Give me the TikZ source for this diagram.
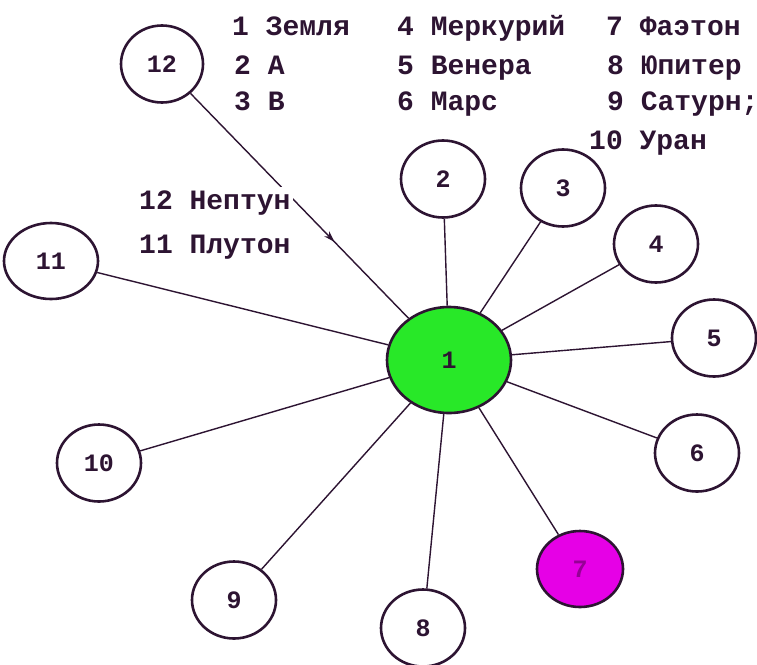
\documentclass[tikz,border=0pt]{standalone}
\usepackage{fontspec}
\setmonofont{Liberation Mono}
\usetikzlibrary{shapes.geometric,decorations.markings,arrows.meta}
\definecolor{ink}{RGB}{45,20,50}
\definecolor{sungreen}{RGB}{40,232,40}
\definecolor{mag}{RGB}{230,0,230}
\definecolor{magtext}{RGB}{150,0,150}
\begin{document}
\begin{tikzpicture}[x=1pt,y=-1pt,
 planet/.style={ellipse,draw=ink,fill=white,line width=2.6pt,minimum width=84pt,minimum height=77pt,inner sep=0pt,font=\ttfamily\bfseries\fontsize{25}{25}\selectfont,text=ink},
 legend/.style={anchor=base west,inner sep=1pt,font=\ttfamily\bfseries\fontsize{28}{28}\selectfont,text=ink},
 link/.style={draw=ink,line width=1.4pt}]
\useasboundingbox[fill=white] (0,0) rectangle (757,664);

% nodes
\node[planet,fill=sungreen,minimum width=124pt,minimum height=106pt] (n1) at (449,360) {1};
\node[planet] (n2) at (443,179) {2};
\node[planet] (n3) at (563,188) {3};
\node[planet] (n4) at (656,244) {4};
\node[planet] (n5) at (714,338) {5};
\node[planet] (n6) at (697,453) {6};
\node[planet,fill=mag,text=magtext,minimum width=86pt,minimum height=76pt] (n7) at (580,569) {7};
\node[planet] (n8) at (423,628) {8};
\node[planet] (n9) at (234,600) {9};
\node[planet] (n10) at (99,463) {10};
\node[planet,minimum width=94pt,minimum height=76pt] (n11) at (51,261) {11};
\node[planet,minimum width=82pt] (n12) at (162,64) {12};

% links
\foreach \t in {n2,n3,n4,n5,n6,n7,n8,n9,n10,n11}
  \draw[link] (n1) -- (\t);
\draw[link,postaction={decorate},decoration={markings,mark=at position 0.66 with {\arrow{Stealth[length=11pt,width=7pt]}}}] (n12) -- (n1);

% legend
\node[legend] (l1) at (231,35) {1 Земля};
\node[legend] (l2) at (233,74) {2 А};
\node[legend] (l3) at (233,110) {3 В};
\node[legend] (l4) at (396,35) {4 Меркурий};
\node[legend] (l5) at (396,74) {5 Венера};
\node[legend] (l6) at (396,110) {6 Марс};
\node[legend] (l7) at (605,35) {7 Фаэтон};
\node[legend] (l8) at (606,74) {8 Юпитер};
\node[legend] (l9) at (606,110) {9 Сатурн;};
\node[legend] (l10) at (588,149) {10 Уран};
\node[legend,fill=white,inner sep=3pt] (l12) at (136,209) {12 Нептун};
\node[legend] (l11) at (138,253) {11 Плутон};
\end{tikzpicture}
\end{document}
